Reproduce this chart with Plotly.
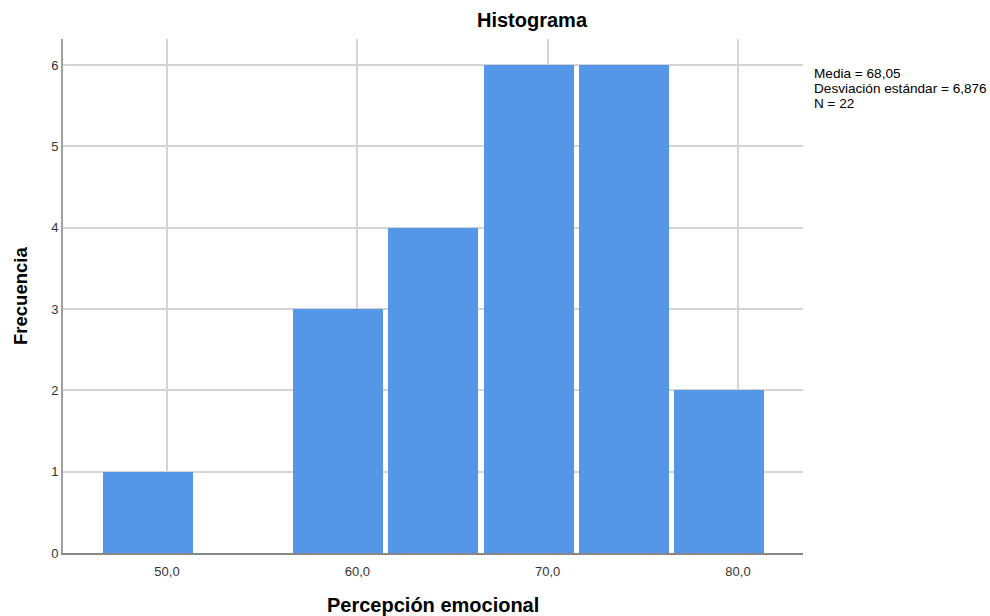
import plotly.graph_objects as go

bin_centers = [49.0, 54.0, 59.0, 64.0, 69.0, 74.0, 79.0]
counts = [1, 0, 3, 4, 6, 6, 2]
x_ticks = [50, 60, 70, 80]
x_tick_labels = ["50,0", "60,0", "70,0", "80,0"]
y_ticks = [0, 1, 2, 3, 4, 5, 6]
stats_lines = ["Media = 68,05", "Desviación estándar = 6,876", "N = 22"]

FONT = "Liberation Sans, Arial, sans-serif"
W, H = 990, 616
L, R, T, B = 63, 803, 39, 553  # plot area edges in page pixels

fig = go.Figure()
fig.add_trace(go.Bar(
    x=bin_centers, y=counts, width=4.73,
    marker=dict(color="#5596E6", line=dict(width=0)),
    hoverinfo="x+y",
))

fig.update_layout(
    width=W, height=H,
    margin=dict(l=L, r=W - R, t=T, b=H - B),
    paper_bgcolor="white", plot_bgcolor="white",
    font=dict(family=FONT, size=13, color="#333333"),
    showlegend=False,
    bargap=0,
    xaxis=dict(
        range=[44.535, 83.416], tickvals=x_ticks, ticktext=x_tick_labels,
        showgrid=True, gridcolor="#d4d4d4", gridwidth=1.5,
        showline=True, linecolor="#888888", linewidth=1.5,
        ticks="", zeroline=False, layer="below traces",
        ticklabelstandoff=6,
        tickfont=dict(size=13, color="#333333"),
    ),
    yaxis=dict(
        range=[0, 6.32], tickvals=y_ticks,
        showgrid=True, gridcolor="#d4d4d4", gridwidth=1.5,
        showline=True, linecolor="#a0a0a0", linewidth=2,
        ticks="", zeroline=False, layer="below traces",
        tickfont=dict(size=13, color="#333333"),
    ),
)

def px_x(x):
    return (x - L) / (R - L)

def px_y(y):
    return (B - y) / (B - T)

# title
fig.add_annotation(text="<b>Histograma</b>", xref="paper", yref="paper",
                   x=px_x(532), y=px_y(20), xanchor="center", yanchor="middle",
                   showarrow=False, font=dict(family=FONT, size=20, color="#000000"))
# x axis title
fig.add_annotation(text="<b>Percepción emocional</b>", xref="paper", yref="paper",
                   x=0.5, y=px_y(605), xanchor="center", yanchor="middle",
                   showarrow=False, font=dict(family=FONT, size=20, color="#000000"))
# y axis title
fig.add_annotation(text="<b>Frecuencia</b>", xref="paper", yref="paper",
                   x=px_x(20), y=0.5, xanchor="center", yanchor="middle",
                   textangle=-90, showarrow=False,
                   font=dict(family=FONT, size=18.5, color="#000000"))

# stats block
for i, line in enumerate(stats_lines):
    fig.add_annotation(
        text=line, xref="paper", yref="paper",
        x=px_x(812), y=px_y(73 + 15 * i), xanchor="left", yanchor="middle",
        align="left", showarrow=False,
        font=dict(family=FONT, size=13.6, color="#000000"),
    )

fig.write_html(
    "out.html",
    config={"displayModeBar": False},
    post_script="document.body.style.margin='0';document.body.style.overflow='hidden';",
)
